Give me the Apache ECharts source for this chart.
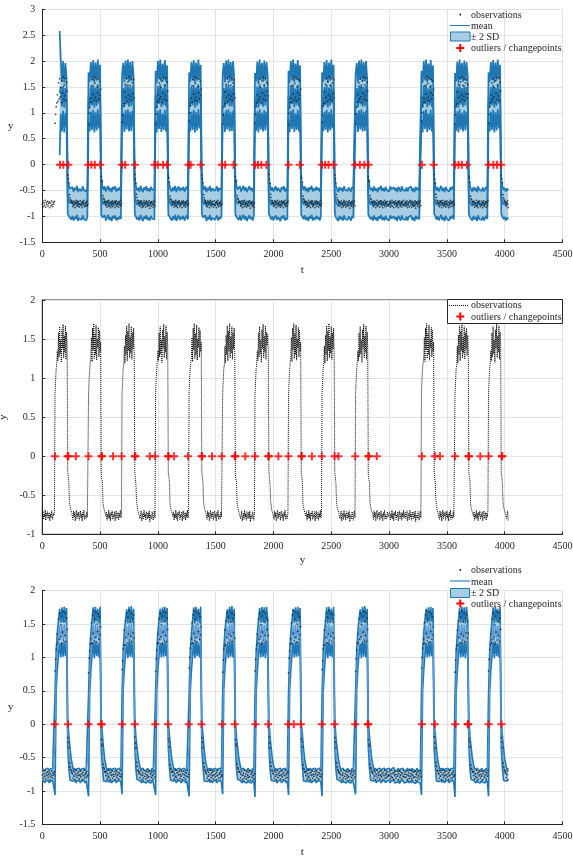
<!DOCTYPE html>
<html>
<head>
<meta charset="utf-8">
<script src="https://cdn.jsdelivr.net/npm/echarts@6/dist/echarts.min.js"></script>
<style>
  html, body { margin: 0; padding: 0; background: #fff; }
  #chart { width: 573px; height: 856px; }
</style>
</head>
<body>
<div id="chart"></div>
<script>
// Sampling steps (time units per sample): observation i sits at t = i * obsStep,
// model sample j at t = j * modelStep.
const obsStep = 5;
const modelStep = 10;

// Observed signal, t = 0 … 4030 (one line per regime).
const observations = [
  -0.76, -0.7, -0.81, -0.74, -0.78, -0.69, -0.82, -0.73, -0.77, -0.71, -0.8, -0.75, -0.72, -0.83, -0.74, -0.79, -0.7, -0.77, -0.81, -0.73, -0.76, -0.71,
  0.8, 0.97, 1.12, 1.19, 1.35, 1.22, 1.58, 1.27, 1.66, 1.31, 1.49, 1.2, 1.62, 1.38, 1.69, 1.26, 1.54, 1.33, 1.67, 1.24, 1.59, 1.42,
  -0.2, -0.27, -0.35, -0.58, -0.64, -0.68, -0.7, -0.73, -0.74, -0.81, -0.7, -0.78, -0.72, -0.83, -0.75, -0.69, -0.8, -0.73, -0.77, -0.71, -0.82, -0.76, -0.7, -0.79, -0.74, -0.83, -0.72, -0.77, -0.69, -0.81, -0.75, -0.73, -0.8, -0.71, -0.78, -0.76,
  0.77, 0.99, 1.1, 1.2, 1.28, 1.52, 1.21, 1.64, 1.36, 1.7, 1.25, 1.57, 1.3, 1.68, 1.23, 1.5, 1.39, 1.65, 1.27, 1.61, 1.34, 1.46,
  -0.23, -0.3, -0.33, -0.6, -0.65, -0.67, -0.71, -0.72, -0.77, -0.71, -0.82, -0.74, -0.79, -0.69, -0.8, -0.73, -0.83, -0.72, -0.76, -0.7, -0.81, -0.75, -0.78, -0.71, -0.83, -0.74, -0.7, -0.8, -0.76, -0.72, -0.82, -0.73, -0.78, -0.69, -0.79, -0.75,
  0.82, 0.95, 1.13, 1.18, 1.41, 1.19, 1.55, 1.3, 1.67, 1.22, 1.6, 1.35, 1.7, 1.26, 1.53, 1.32, 1.66, 1.24, 1.58, 1.37, 1.64, 1.29,
  -0.19, -0.28, -0.36, -0.57, -0.63, -0.69, -0.7, -0.74, -0.72, -0.8, -0.75, -0.7, -0.83, -0.77, -0.73, -0.81, -0.69, -0.78, -0.74, -0.82, -0.71, -0.76, -0.8, -0.72, -0.79, -0.7, -0.84, -0.75, -0.73, -0.8, -0.71, -0.77, -0.82, -0.74, -0.7, -0.79,
  0.79, 0.98, 1.11, 1.21, 1.35, 1.22, 1.58, 1.27, 1.66, 1.31, 1.49, 1.2, 1.62, 1.38, 1.69, 1.26, 1.54, 1.33, 1.67, 1.24, 1.59, 1.42,
  -0.22, -0.26, -0.34, -0.61, -0.66, -0.68, -0.72, -0.71, -0.77, -0.71, -0.82, -0.74, -0.79, -0.69, -0.8, -0.73, -0.83, -0.72, -0.76, -0.7, -0.81, -0.75, -0.78, -0.71, -0.83, -0.74, -0.7, -0.8, -0.76, -0.72, -0.82, -0.73, -0.78, -0.69, -0.79, -0.75,
  0.84, 1.0, 1.14, 1.2, 1.28, 1.52, 1.21, 1.64, 1.36, 1.7, 1.25, 1.57, 1.3, 1.68, 1.23, 1.5, 1.39, 1.65, 1.27, 1.61, 1.34, 1.46,
  -0.2, -0.27, -0.35, -0.58, -0.64, -0.68, -0.7, -0.73, -0.74, -0.81, -0.7, -0.78, -0.72, -0.83, -0.75, -0.69, -0.8, -0.73, -0.77, -0.71, -0.82, -0.76, -0.7, -0.79, -0.74, -0.83, -0.72, -0.77, -0.69, -0.81, -0.75, -0.73, -0.8, -0.71, -0.78, -0.76,
  0.78, 0.96, 1.12, 1.17, 1.41, 1.19, 1.55, 1.3, 1.67, 1.22, 1.6, 1.35, 1.7, 1.26, 1.53, 1.32, 1.66, 1.24, 1.58, 1.37, 1.64, 1.29,
  -0.23, -0.3, -0.33, -0.6, -0.65, -0.67, -0.71, -0.72, -0.72, -0.8, -0.75, -0.7, -0.83, -0.77, -0.73, -0.81, -0.69, -0.78, -0.74, -0.82, -0.71, -0.76, -0.8, -0.72, -0.79, -0.7, -0.84, -0.75, -0.73, -0.8, -0.71, -0.77, -0.82, -0.74,
  0.8, 0.97, 1.12, 1.19, 1.35, 1.22, 1.58, 1.27, 1.66, 1.31, 1.49, 1.2, 1.62, 1.38, 1.69, 1.26, 1.54, 1.33, 1.67, 1.24, 1.59, 1.42, 1.56, 1.33,
  -0.19, -0.28, -0.36, -0.57, -0.63, -0.69, -0.7, -0.74, -0.74, -0.81, -0.7, -0.78, -0.72, -0.83, -0.75, -0.69, -0.8, -0.73, -0.77, -0.71, -0.82, -0.76, -0.7, -0.79, -0.74, -0.83, -0.72, -0.77, -0.69, -0.81, -0.75, -0.73, -0.8, -0.71,
  0.77, 0.99, 1.1, 1.2, 1.28, 1.52, 1.21, 1.64, 1.36, 1.7, 1.25, 1.57, 1.3, 1.68, 1.23, 1.5, 1.39, 1.65, 1.27, 1.61, 1.34, 1.46,
  -0.22, -0.26, -0.34, -0.61, -0.66, -0.68, -0.72, -0.71, -0.77, -0.71, -0.82, -0.74, -0.79, -0.69, -0.8, -0.73, -0.83, -0.72, -0.76, -0.7, -0.81, -0.75, -0.78, -0.71, -0.83, -0.74, -0.7, -0.8, -0.76, -0.72, -0.82, -0.73, -0.78, -0.69, -0.79, -0.75,
  0.82, 0.95, 1.13, 1.18, 1.41, 1.19, 1.55, 1.3, 1.67, 1.22, 1.6, 1.35, 1.7, 1.26, 1.53, 1.32, 1.66, 1.24, 1.58, 1.37, 1.64, 1.29,
  -0.2, -0.27, -0.35, -0.58, -0.64, -0.68, -0.7, -0.73, -0.72, -0.8, -0.75, -0.7, -0.83, -0.77, -0.73, -0.81, -0.69, -0.78, -0.74, -0.82, -0.71, -0.76, -0.8, -0.72, -0.79, -0.7, -0.84, -0.75, -0.73, -0.8, -0.71, -0.77, -0.82, -0.74, -0.7, -0.79,
  0.79, 0.98, 1.11, 1.21, 1.35, 1.22, 1.58, 1.27, 1.66, 1.31, 1.49, 1.2, 1.62, 1.38, 1.69, 1.26, 1.54, 1.33, 1.67, 1.24, 1.59, 1.42,
  -0.23, -0.3, -0.33, -0.6, -0.65, -0.67, -0.71, -0.72,
  -0.74, -0.81, -0.7, -0.78, -0.72, -0.83, -0.75, -0.69, -0.8, -0.73, -0.77, -0.71, -0.82, -0.76, -0.7, -0.79, -0.74, -0.83, -0.72, -0.77, -0.69, -0.81, -0.75, -0.73, -0.8, -0.71, -0.78, -0.76,
  -0.77, -0.71, -0.82, -0.74, -0.79, -0.69, -0.8, -0.73, -0.83, -0.72, -0.76, -0.7, -0.81, -0.75, -0.78, -0.71, -0.83, -0.74, -0.7, -0.8, -0.76, -0.72, -0.82, -0.73, -0.78, -0.69, -0.79, -0.75,
  -0.72, -0.8, -0.75, -0.7, -0.83, -0.77, -0.73, -0.81, -0.69, -0.78, -0.74, -0.82, -0.71, -0.76, -0.8, -0.72, -0.79, -0.7, -0.84, -0.75, -0.73, -0.8, -0.71, -0.77, -0.82, -0.74, -0.7, -0.79,
  0.84, 1.0, 1.14, 1.2, 1.28, 1.52, 1.21, 1.64, 1.36, 1.7, 1.25, 1.57, 1.3, 1.68, 1.23, 1.5, 1.39, 1.65, 1.27, 1.61, 1.34, 1.46,
  -0.19, -0.28, -0.36, -0.57, -0.63, -0.69, -0.7, -0.74, -0.74, -0.81, -0.7, -0.78, -0.72, -0.83, -0.75, -0.69, -0.8, -0.73, -0.77, -0.71, -0.82, -0.76, -0.7, -0.79, -0.74, -0.83, -0.72, -0.77, -0.69, -0.81, -0.75, -0.73, -0.8, -0.71, -0.78, -0.76,
  0.78, 0.96, 1.12, 1.17, 1.41, 1.19, 1.55, 1.3, 1.67, 1.22, 1.6, 1.35, 1.7, 1.26, 1.53, 1.32, 1.66, 1.24, 1.58, 1.37, 1.64, 1.29, 1.55, 1.36,
  -0.22, -0.26, -0.34, -0.61, -0.66, -0.68, -0.72, -0.71, -0.77, -0.71, -0.82, -0.74, -0.79, -0.69, -0.8, -0.73, -0.83, -0.72, -0.76, -0.7, -0.81, -0.75, -0.78, -0.71, -0.83, -0.74, -0.7, -0.8, -0.76, -0.72, -0.82, -0.73, -0.78, -0.69,
  0.8, 0.97, 1.12, 1.19, 1.35, 1.22, 1.58, 1.27, 1.66, 1.31, 1.49, 1.2, 1.62, 1.38, 1.69, 1.26, 1.54, 1.33, 1.67, 1.24, 1.59, 1.42,
  -0.2, -0.27, -0.35, -0.58, -0.64, -0.68, -0.7, -0.73, -0.72, -0.8, -0.75, -0.7, -0.83
];

// Filtered mean and standard deviation of the first model (starts at t = 150).
const mean1 = [
  null, null, null, null, null, null, null, null, null, null, null, null, null, null, null,
  1.38, 1.5, 1.12, 1.52, 1.1, 1.48, 1.2,
  -0.6, -0.7, -0.75, -0.78, -0.71, -0.8, -0.73, -0.77, -0.69, -0.81, -0.75, -0.72, -0.79, -0.7, -0.77, -0.74, -0.8, -0.72,
  1.3, 1.12, 1.5, 1.15, 1.54, 1.1, 1.49, 1.14, 1.55, 1.18, 1.45,
  -0.62, -0.72, -0.77, -0.7, -0.8, -0.74, -0.69, -0.79, -0.73, -0.81, -0.71, -0.76, -0.7, -0.8, -0.74, -0.78, -0.71, -0.77,
  1.27, 1.48, 1.11, 1.53, 1.16, 1.55, 1.12, 1.5, 1.13, 1.52, 1.2,
  -0.61, -0.71, -0.78, -0.73, -0.8, -0.69, -0.76, -0.81, -0.72, -0.77, -0.7, -0.79, -0.74, -0.8, -0.71, -0.76, -0.73, -0.78,
  1.33, 1.1, 1.52, 1.17, 1.55, 1.11, 1.47, 1.15, 1.54, 1.12, 1.44,
  -0.63, -0.7, -0.76, -0.8, -0.72, -0.78, -0.69, -0.81, -0.74, -0.7, -0.79, -0.73, -0.77, -0.71, -0.8, -0.75, -0.7, -0.78,
  1.3, 1.12, 1.5, 1.15, 1.54, 1.1, 1.49, 1.14, 1.55, 1.18, 1.45,
  -0.6, -0.72, -0.77, -0.7, -0.81, -0.73, -0.78, -0.69, -0.8, -0.74, -0.71, -0.79, -0.75, -0.7, -0.8, -0.73, -0.77, -0.72,
  1.27, 1.48, 1.11, 1.53, 1.16, 1.55, 1.12, 1.5, 1.13, 1.52, 1.2,
  -0.62, -0.71, -0.76, -0.79, -0.7, -0.8, -0.74, -0.69, -0.78, -0.72, -0.81, -0.75, -0.7, -0.77, -0.73, -0.8, -0.71,
  1.29, 1.13, 1.51, 1.1, 1.55, 1.16, 1.48, 1.12, 1.53, 1.14, 1.5, 1.22,
  -0.61, -0.7, -0.78, -0.72, -0.8, -0.74, -0.7, -0.79, -0.73, -0.77, -0.81, -0.71, -0.76, -0.7, -0.8, -0.74, -0.78,
  1.33, 1.1, 1.52, 1.17, 1.55, 1.11, 1.47, 1.15, 1.54, 1.12, 1.44,
  -0.63, -0.71, -0.77, -0.7, -0.79, -0.73, -0.81, -0.72, -0.76, -0.69, -0.8, -0.74, -0.78, -0.71, -0.77, -0.73, -0.8, -0.72,
  1.3, 1.12, 1.5, 1.15, 1.54, 1.1, 1.49, 1.14, 1.55, 1.18, 1.45,
  -0.6, -0.72, -0.76, -0.81, -0.71, -0.78, -0.73, -0.8, -0.7, -0.77, -0.74, -0.79, -0.72, -0.76, -0.8, -0.71, -0.75, -0.78,
  1.27, 1.48, 1.11, 1.53, 1.16, 1.55, 1.12, 1.5, 1.13, 1.52, 1.2,
  -0.62, -0.71, -0.77, -0.73, -0.8, -0.7, -0.78, -0.74, -0.81, -0.72, -0.76, -0.69, -0.79, -0.73, -0.8, -0.71, -0.77, -0.74, -0.8, -0.7, -0.76, -0.79, -0.72,
  -0.78, -0.73, -0.81, -0.71, -0.75, -0.8, -0.7, -0.77, -0.74, -0.79, -0.72, -0.8, -0.73, -0.76, -0.7, -0.79, -0.74, -0.81, -0.71, -0.77, -0.73, -0.78, -0.75,
  1.33, 1.1, 1.52, 1.17, 1.55, 1.11, 1.47, 1.15, 1.54, 1.12, 1.44,
  -0.61, -0.7, -0.78, -0.72, -0.8, -0.74, -0.69, -0.79, -0.73, -0.81, -0.71, -0.77, -0.74, -0.8, -0.72, -0.76, -0.7, -0.78,
  1.29, 1.13, 1.51, 1.1, 1.55, 1.16, 1.48, 1.12, 1.53, 1.14, 1.5, 1.22,
  -0.62, -0.72, -0.76, -0.8, -0.71, -0.78, -0.73, -0.81, -0.7, -0.77, -0.74, -0.79, -0.72, -0.8, -0.75, -0.71, -0.77,
  1.3, 1.12, 1.5, 1.15, 1.54, 1.1, 1.49, 1.14, 1.55, 1.18, 1.45,
  -0.61, -0.71, -0.77, -0.73, -0.8, -0.74, -0.78
];
const sd1 = [
  null, null, null, null, null, null, null, null, null, null, null, null, null, null, null,
  0.6, 0.26, 0.24, 0.24, 0.24, 0.24, 0.24,
  0.17, 0.15, 0.14, 0.14, 0.14, 0.14, 0.14, 0.14, 0.14, 0.14, 0.14, 0.14, 0.14, 0.14, 0.14, 0.14, 0.14, 0.14,
  0.24, 0.24, 0.24, 0.24, 0.24, 0.24, 0.24, 0.24, 0.24, 0.24, 0.24,
  0.17, 0.15, 0.14, 0.14, 0.14, 0.14, 0.14, 0.14, 0.14, 0.14, 0.14, 0.14, 0.14, 0.14, 0.14, 0.14, 0.14, 0.14,
  0.24, 0.24, 0.24, 0.24, 0.24, 0.24, 0.24, 0.24, 0.24, 0.24, 0.24,
  0.17, 0.15, 0.14, 0.14, 0.14, 0.14, 0.14, 0.14, 0.14, 0.14, 0.14, 0.14, 0.14, 0.14, 0.14, 0.14, 0.14, 0.14,
  0.24, 0.24, 0.24, 0.24, 0.24, 0.24, 0.24, 0.24, 0.24, 0.24, 0.24,
  0.17, 0.15, 0.14, 0.14, 0.14, 0.14, 0.14, 0.14, 0.14, 0.14, 0.14, 0.14, 0.14, 0.14, 0.14, 0.14, 0.14, 0.14,
  0.24, 0.24, 0.24, 0.24, 0.24, 0.24, 0.24, 0.24, 0.24, 0.24, 0.24,
  0.17, 0.15, 0.14, 0.14, 0.14, 0.14, 0.14, 0.14, 0.14, 0.14, 0.14, 0.14, 0.14, 0.14, 0.14, 0.14, 0.14, 0.14,
  0.24, 0.24, 0.24, 0.24, 0.24, 0.24, 0.24, 0.24, 0.24, 0.24, 0.24,
  0.17, 0.15, 0.14, 0.14, 0.14, 0.14, 0.14, 0.14, 0.14, 0.14, 0.14, 0.14, 0.14, 0.14, 0.14, 0.14, 0.14,
  0.24, 0.24, 0.24, 0.24, 0.24, 0.24, 0.24, 0.24, 0.24, 0.24, 0.24, 0.24,
  0.17, 0.15, 0.14, 0.14, 0.14, 0.14, 0.14, 0.14, 0.14, 0.14, 0.14, 0.14, 0.14, 0.14, 0.14, 0.14, 0.14,
  0.24, 0.24, 0.24, 0.24, 0.24, 0.24, 0.24, 0.24, 0.24, 0.24, 0.24,
  0.17, 0.15, 0.14, 0.14, 0.14, 0.14, 0.14, 0.14, 0.14, 0.14, 0.14, 0.14, 0.14, 0.14, 0.14, 0.14, 0.14, 0.14,
  0.24, 0.24, 0.24, 0.24, 0.24, 0.24, 0.24, 0.24, 0.24, 0.24, 0.24,
  0.17, 0.15, 0.14, 0.14, 0.14, 0.14, 0.14, 0.14, 0.14, 0.14, 0.14, 0.14, 0.14, 0.14, 0.14, 0.14, 0.14, 0.14,
  0.24, 0.24, 0.24, 0.24, 0.24, 0.24, 0.24, 0.24, 0.24, 0.24, 0.24,
  0.17, 0.15, 0.14, 0.14, 0.14, 0.14, 0.14, 0.14, 0.14, 0.14, 0.14, 0.14, 0.14, 0.14, 0.14, 0.14, 0.14, 0.14, 0.14, 0.14, 0.14, 0.14, 0.14,
  0.14, 0.14, 0.14, 0.14, 0.14, 0.14, 0.14, 0.14, 0.14, 0.14, 0.14, 0.14, 0.14, 0.14, 0.14, 0.14, 0.14, 0.14, 0.14, 0.14, 0.14, 0.14, 0.14,
  0.24, 0.24, 0.24, 0.24, 0.24, 0.24, 0.24, 0.24, 0.24, 0.24, 0.24,
  0.17, 0.15, 0.14, 0.14, 0.14, 0.14, 0.14, 0.14, 0.14, 0.14, 0.14, 0.14, 0.14, 0.14, 0.14, 0.14, 0.14, 0.14,
  0.24, 0.24, 0.24, 0.24, 0.24, 0.24, 0.24, 0.24, 0.24, 0.24, 0.24, 0.24,
  0.17, 0.15, 0.14, 0.14, 0.14, 0.14, 0.14, 0.14, 0.14, 0.14, 0.14, 0.14, 0.14, 0.14, 0.14, 0.14, 0.14,
  0.24, 0.24, 0.24, 0.24, 0.24, 0.24, 0.24, 0.24, 0.24, 0.24, 0.24,
  0.17, 0.15, 0.14, 0.14, 0.14, 0.14, 0.14
];

// Mean and standard deviation of the second model (whole record).
const mean3 = [
  -0.77, -0.75, -0.79, -0.76, -0.78, -0.75, -0.79, -0.76, -0.78, -0.75, -0.77,
  -0.3, 0.8, 1.1, 1.3, 1.47, 1.26, 1.49, 1.27, 1.5, 1.28, 1.48,
  -0.15, -0.42, -0.6, -0.68, -0.73, -0.78, -0.75, -0.79, -0.76, -0.78, -0.75, -0.79, -0.76, -0.78, -0.75, -0.79, -0.76, -0.78,
  -0.32, 0.78, 1.08, 1.29, 1.49, 1.25, 1.5, 1.28, 1.47, 1.26, 1.5,
  -0.18, -0.4, -0.61, -0.69, -0.74, -0.79, -0.75, -0.78, -0.75, -0.79, -0.76, -0.78, -0.75, -0.79, -0.76, -0.78, -0.75, -0.79,
  -0.29, 0.82, 1.12, 1.31, 1.46, 1.25, 1.5, 1.27, 1.51, 1.26, 1.47,
  -0.13, -0.44, -0.59, -0.67, -0.72, -0.77, -0.79, -0.75, -0.78, -0.76, -0.79, -0.75, -0.78, -0.76, -0.79, -0.75, -0.78, -0.76,
  -0.3, 0.8, 1.1, 1.3, 1.47, 1.26, 1.49, 1.27, 1.5, 1.28, 1.48,
  -0.15, -0.42, -0.6, -0.68, -0.73, -0.78, -0.75, -0.79, -0.76, -0.78, -0.75, -0.79, -0.76, -0.78, -0.75, -0.79, -0.76, -0.78,
  -0.32, 0.78, 1.08, 1.29, 1.49, 1.25, 1.5, 1.28, 1.47, 1.26, 1.5,
  -0.18, -0.4, -0.61, -0.69, -0.74, -0.79, -0.75, -0.78, -0.75, -0.79, -0.76, -0.78, -0.75, -0.79, -0.76, -0.78, -0.75, -0.79,
  -0.29, 0.82, 1.12, 1.31, 1.46, 1.25, 1.5, 1.27, 1.51, 1.26, 1.47,
  -0.13, -0.44, -0.59, -0.67, -0.72, -0.77, -0.79, -0.75, -0.78, -0.76, -0.79, -0.75, -0.78, -0.76, -0.79, -0.75, -0.78,
  -0.33, 0.77, 1.07, 1.3, 1.48, 1.26, 1.5, 1.27, 1.49, 1.25, 1.5, 1.3,
  -0.15, -0.42, -0.6, -0.68, -0.73, -0.78, -0.75, -0.79, -0.76, -0.78, -0.75, -0.79, -0.76, -0.78, -0.75, -0.79, -0.76,
  -0.3, 0.8, 1.1, 1.3, 1.47, 1.26, 1.49, 1.27, 1.5, 1.28, 1.48,
  -0.18, -0.4, -0.61, -0.69, -0.74, -0.79, -0.75, -0.78, -0.75, -0.79, -0.76, -0.78, -0.75, -0.79, -0.76, -0.78, -0.75, -0.79,
  -0.32, 0.78, 1.08, 1.29, 1.49, 1.25, 1.5, 1.28, 1.47, 1.26, 1.5,
  -0.13, -0.44, -0.59, -0.67, -0.72, -0.77, -0.79, -0.75, -0.78, -0.76, -0.79, -0.75, -0.78, -0.76, -0.79, -0.75, -0.78, -0.76,
  -0.29, 0.82, 1.12, 1.31, 1.46, 1.25, 1.5, 1.27, 1.51, 1.26, 1.47,
  -0.15, -0.42, -0.6, -0.68, -0.73, -0.78, -0.75, -0.79, -0.76, -0.78, -0.75, -0.79, -0.76, -0.78, -0.75, -0.79, -0.76, -0.78,
  -0.75, -0.79, -0.76, -0.78, -0.74, -0.79, -0.77, -0.78, -0.75, -0.8, -0.76, -0.78, -0.75, -0.79,
  -0.77, -0.78, -0.75, -0.79, -0.76, -0.79, -0.75, -0.78, -0.76, -0.8, -0.75, -0.78, -0.76, -0.79,
  -0.3, 0.8, 1.1, 1.3, 1.47, 1.26, 1.49, 1.27, 1.5, 1.28, 1.48,
  -0.18, -0.4, -0.61, -0.69, -0.74, -0.79, -0.75, -0.78, -0.75, -0.79, -0.76, -0.78, -0.75, -0.79, -0.76, -0.78, -0.75, -0.79,
  -0.33, 0.77, 1.07, 1.3, 1.48, 1.26, 1.5, 1.27, 1.49, 1.25, 1.5, 1.3,
  -0.13, -0.44, -0.59, -0.67, -0.72, -0.77, -0.79, -0.75, -0.78, -0.76, -0.79, -0.75, -0.78, -0.76, -0.79, -0.75, -0.78,
  -0.32, 0.78, 1.08, 1.29, 1.49, 1.25, 1.5, 1.28, 1.47, 1.26, 1.5,
  -0.15, -0.42, -0.6, -0.68, -0.73, -0.78, -0.75
];
const sd3 = [
  0.05, 0.045, 0.045, 0.045, 0.045, 0.045, 0.045, 0.045, 0.045, 0.045, 0.045,
  0.38, 0.15, 0.14, 0.13, 0.13, 0.13, 0.13, 0.13, 0.13, 0.13, 0.13,
  0.1, 0.12, 0.12, 0.08, 0.06, 0.045, 0.045, 0.045, 0.045, 0.045, 0.045, 0.045, 0.045, 0.045, 0.045, 0.045, 0.045, 0.045,
  0.38, 0.15, 0.14, 0.13, 0.13, 0.13, 0.13, 0.13, 0.13, 0.13, 0.13,
  0.1, 0.12, 0.12, 0.08, 0.06, 0.045, 0.045, 0.045, 0.045, 0.045, 0.045, 0.045, 0.045, 0.045, 0.045, 0.045, 0.045, 0.045,
  0.38, 0.15, 0.14, 0.13, 0.13, 0.13, 0.13, 0.13, 0.13, 0.13, 0.13,
  0.1, 0.12, 0.12, 0.08, 0.06, 0.045, 0.045, 0.045, 0.045, 0.045, 0.045, 0.045, 0.045, 0.045, 0.045, 0.045, 0.045, 0.045,
  0.38, 0.15, 0.14, 0.13, 0.13, 0.13, 0.13, 0.13, 0.13, 0.13, 0.13,
  0.1, 0.12, 0.12, 0.08, 0.06, 0.045, 0.045, 0.045, 0.045, 0.045, 0.045, 0.045, 0.045, 0.045, 0.045, 0.045, 0.045, 0.045,
  0.38, 0.15, 0.14, 0.13, 0.13, 0.13, 0.13, 0.13, 0.13, 0.13, 0.13,
  0.1, 0.12, 0.12, 0.08, 0.06, 0.045, 0.045, 0.045, 0.045, 0.045, 0.045, 0.045, 0.045, 0.045, 0.045, 0.045, 0.045, 0.045,
  0.38, 0.15, 0.14, 0.13, 0.13, 0.13, 0.13, 0.13, 0.13, 0.13, 0.13,
  0.1, 0.12, 0.12, 0.08, 0.06, 0.045, 0.045, 0.045, 0.045, 0.045, 0.045, 0.045, 0.045, 0.045, 0.045, 0.045, 0.045,
  0.38, 0.15, 0.14, 0.13, 0.13, 0.13, 0.13, 0.13, 0.13, 0.13, 0.13, 0.13,
  0.1, 0.12, 0.12, 0.08, 0.06, 0.045, 0.045, 0.045, 0.045, 0.045, 0.045, 0.045, 0.045, 0.045, 0.045, 0.045, 0.045,
  0.38, 0.15, 0.14, 0.13, 0.13, 0.13, 0.13, 0.13, 0.13, 0.13, 0.13,
  0.1, 0.12, 0.12, 0.08, 0.06, 0.045, 0.045, 0.045, 0.045, 0.045, 0.045, 0.045, 0.045, 0.045, 0.045, 0.045, 0.045, 0.045,
  0.38, 0.15, 0.14, 0.13, 0.13, 0.13, 0.13, 0.13, 0.13, 0.13, 0.13,
  0.1, 0.12, 0.12, 0.08, 0.06, 0.045, 0.045, 0.045, 0.045, 0.045, 0.045, 0.045, 0.045, 0.045, 0.045, 0.045, 0.045, 0.045,
  0.38, 0.15, 0.14, 0.13, 0.13, 0.13, 0.13, 0.13, 0.13, 0.13, 0.13,
  0.1, 0.12, 0.12, 0.08, 0.06, 0.045, 0.045, 0.045, 0.045, 0.045, 0.045, 0.045, 0.045, 0.045, 0.045, 0.045, 0.045, 0.045,
  0.045, 0.045, 0.045, 0.045, 0.045, 0.045, 0.045, 0.045, 0.045, 0.045, 0.045, 0.045, 0.045, 0.045,
  0.045, 0.045, 0.045, 0.045, 0.045, 0.045, 0.045, 0.045, 0.045, 0.045, 0.045, 0.045, 0.045, 0.045,
  0.38, 0.15, 0.14, 0.13, 0.13, 0.13, 0.13, 0.13, 0.13, 0.13, 0.13,
  0.1, 0.12, 0.12, 0.08, 0.06, 0.045, 0.045, 0.045, 0.045, 0.045, 0.045, 0.045, 0.045, 0.045, 0.045, 0.045, 0.045, 0.045,
  0.38, 0.15, 0.14, 0.13, 0.13, 0.13, 0.13, 0.13, 0.13, 0.13, 0.13, 0.13,
  0.1, 0.12, 0.12, 0.08, 0.06, 0.045, 0.045, 0.045, 0.045, 0.045, 0.045, 0.045, 0.045, 0.045, 0.045, 0.045, 0.045,
  0.38, 0.15, 0.14, 0.13, 0.13, 0.13, 0.13, 0.13, 0.13, 0.13, 0.13,
  0.1, 0.12, 0.12, 0.08, 0.06, 0.045, 0.045
];

// Times flagged as outliers / changepoints by each method (drawn on y = 0).
const flags1 = [153, 182, 225, 397, 425, 455, 501, 689, 717, 801, 970, 998, 1045, 1078, 1265, 1283, 1370,
  1553, 1582, 1654, 1841, 1866, 1895, 1938, 2130, 2228, 2418, 2447, 2476, 2519, 2707, 2747, 2786, 2822,
  3284, 3385, 3572, 3601, 3630, 3673, 3861, 3902, 3933, 3970];
const flags2 = [110, 219, 226, 290, 400, 512, 517, 612, 686, 800, 805, 930, 976, 1088, 1093, 1140, 1261,
  1378, 1383, 1468, 1552, 1665, 1670, 1756, 1840, 1955, 1960, 2042, 2129, 2241, 2246, 2332, 2418, 2528,
  2562, 2707, 2820, 2825, 2894, 3284, 3396, 3440, 3570, 3686, 3691, 3789, 3861, 3974, 3979];
const flags3 = [108, 222, 400, 509, 514, 690, 800, 978, 1088, 1267, 1377, 1556, 1665, 1844, 1954, 2127,
  2175, 2236, 2418, 2527, 2707, 2815, 2820, 3284, 3395, 3572, 3680, 3684, 3861, 3972];

if (observations.length !== 807) throw new Error('observations has ' + observations.length + ' samples');
[['mean1', mean1], ['sd1', sd1], ['mean3', mean3], ['sd3', sd3]]
  .forEach(([n, a]) => { if (a.length !== 404) throw new Error(n + ' has ' + a.length + ' samples'); });

const FONT = '"Liberation Serif", "Times New Roman", serif';
const INK = '#262626';
const BLUE = '#1f77b4';
const BAND_FILL = '#a6cde2';
const MEAN3 = '#5b9bd5';
const GRIDLINE = '#e3e3e3';
const PLUS = 'path://M3,0h2v3h3v2h-3v3h-2v-3h-3v-2h3z';

function pairs(vals, step) {
  const out = [];
  vals.forEach((v, i) => { if (v != null) out.push([i * step, v]); });
  return out;
}
function edge(mean, sd, sign) {
  const out = [];
  mean.forEach((m, i) => { if (m != null) out.push([i * modelStep, m + sign * 2 * sd[i]]); });
  return out;
}
function bandFill(idx, mean, sd) {
  return {
    type: 'custom', xAxisIndex: idx, yAxisIndex: idx, silent: true, clip: true, z: 1,
    data: [[0, 0]],
    renderItem: function (params, api) {
      const up = [], lo = [];
      mean.forEach((m, i) => {
        if (m == null) return;
        up.push(api.coord([i * modelStep, m + 2 * sd[i]]));
        lo.push(api.coord([i * modelStep, m - 2 * sd[i]]));
      });
      return { type: 'polygon', shape: { points: up.concat(lo.reverse()) }, style: { fill: BAND_FILL, stroke: null } };
    }
  };
}
function line(idx, data, lineStyle) {
  return {
    type: 'line', xAxisIndex: idx, yAxisIndex: idx, data: data, symbol: 'none', showSymbol: false,
    silent: true, lineStyle: lineStyle, z: 2
  };
}
function dots(idx) {
  return {
    type: 'scatter', xAxisIndex: idx, yAxisIndex: idx, data: pairs(observations, obsStep), symbol: 'circle',
    symbolSize: 1.7, itemStyle: { color: '#1a1a1a' }, silent: true, z: 4
  };
}
function flags(idx, ts) {
  return {
    type: 'scatter', xAxisIndex: idx, yAxisIndex: idx, data: ts.map(t => [t, 0]), symbol: PLUS,
    symbolSize: 8, itemStyle: { color: '#ff0000' }, silent: true, z: 5
  };
}

const axisText = { fontFamily: FONT, fontSize: 10, color: INK, margin: 7, formatter: v => String(v) };
function xAxis(idx, name, gap) {
  return {
    type: 'value', gridIndex: idx, min: 0, max: 4500, interval: 500,
    name: name, nameLocation: 'middle', nameGap: gap,
    nameTextStyle: { fontFamily: FONT, fontSize: 11, color: INK },
    axisLine: { show: true, onZero: false, lineStyle: { color: INK, width: 1 } },
    axisTick: { show: true, inside: true, length: 3, lineStyle: { color: INK } },
    axisLabel: axisText,
    splitLine: { show: true, lineStyle: { color: GRIDLINE, width: 1 } }
  };
}
function yAxis(idx, min, max, rotate, gap) {
  return {
    type: 'value', gridIndex: idx, min: min, max: max, interval: 0.5,
    name: 'y', nameLocation: 'middle', nameGap: gap, nameRotate: rotate,
    nameTextStyle: { fontFamily: FONT, fontSize: 11, color: INK },
    axisLine: { show: true, onZero: false, lineStyle: { color: INK, width: 1 } },
    axisTick: { show: true, inside: true, length: 3, lineStyle: { color: INK } },
    axisLabel: axisText,
    splitLine: { show: true, lineStyle: { color: GRIDLINE, width: 1 } }
  };
}

// Legend keys drawn as plain graphics so every key matches its mark.
function legendText(x, y, s) {
  return { type: 'text', x: x, y: y, style: { text: s, font: '10px ' + FONT, fill: INK, verticalAlign: 'middle' }, z: 100 };
}
function legendPlus(cx, cy) {
  return [
    { type: 'rect', shape: { x: cx - 4, y: cy - 1, width: 8, height: 2 }, style: { fill: '#ff0000' }, z: 100 },
    { type: 'rect', shape: { x: cx - 1, y: cy - 4, width: 2, height: 8 }, style: { fill: '#ff0000' }, z: 100 }
  ];
}
const legendItems = [].concat(
  // top panel
  [{ type: 'circle', shape: { cx: 460.3, cy: 14.5, r: 0.9 }, style: { fill: '#1a1a1a' }, z: 100 },
   legendText(471, 15, 'observations'),
   { type: 'line', shape: { x1: 450, y1: 25.5, x2: 470, y2: 25.5 }, style: { stroke: BLUE, lineWidth: 1 }, z: 100 },
   legendText(471, 26, 'mean'),
   { type: 'rect', shape: { x: 450.5, y: 32, width: 19.5, height: 9 }, style: { fill: BAND_FILL, stroke: BLUE, lineWidth: 1 }, z: 100 },
   legendText(471, 37, '± 2 SD')],
  legendPlus(460.3, 48),
  [legendText(471, 48.5, 'outliers / changepoints')],
  // middle panel
  [{ type: 'rect', shape: { x: 447.5, y: 299.5, width: 115, height: 24 }, style: { fill: '#fff', stroke: INK, lineWidth: 1 }, z: 99 },
   { type: 'line', shape: { x1: 449, y1: 305.5, x2: 469, y2: 305.5 }, style: { stroke: '#000', lineWidth: 1, lineDash: [1, 1] }, z: 100 },
   legendText(471, 305.5, 'observations')],
  legendPlus(460.3, 316.5),
  [legendText(471, 317, 'outliers / changepoints')],
  // bottom panel
  [{ type: 'circle', shape: { cx: 460.3, cy: 570, r: 0.9 }, style: { fill: '#1a1a1a' }, z: 100 },
   legendText(471, 570.5, 'observations'),
   { type: 'line', shape: { x1: 450, y1: 581, x2: 470, y2: 581 }, style: { stroke: MEAN3, lineWidth: 1.5 }, z: 100 },
   legendText(471, 582, 'mean'),
   { type: 'rect', shape: { x: 450.5, y: 588.5, width: 19, height: 9 }, style: { fill: BAND_FILL, stroke: BLUE, lineWidth: 1 }, z: 100 },
   legendText(471, 593, '± 2 SD')],
  legendPlus(460.3, 603.5),
  [legendText(471, 604, 'outliers / changepoints')]
);

const chart = echarts.init(document.getElementById('chart'), null, { renderer: 'canvas' });
chart.setOption({
  animation: false,
  backgroundColor: '#fff',
  grid: [
    { left: 42.3, top: 9.3, width: 520.2, height: 233, outerBoundsMode: 'none', containLabel: false },
    { left: 42.3, top: 300, width: 520.2, height: 234.3, show: true, borderColor: INK, borderWidth: 1, outerBoundsMode: 'none', containLabel: false },
    { left: 42.3, top: 590.7, width: 520.2, height: 233.6, outerBoundsMode: 'none', containLabel: false }
  ],
  xAxis: [xAxis(0, 't', 22), xAxis(1, 'y', 20), xAxis(2, 't', 22)],
  yAxis: [yAxis(0, -1.5, 3, 0, 18), yAxis(1, -1, 2, 90, 22), yAxis(2, -1.5, 2, 0, 18)],
  series: [
    // top: filter with ± 2 SD band
    bandFill(0, mean1, sd1),
    line(0, edge(mean1, sd1, 1), { color: BLUE, width: 1.7 }),
    line(0, edge(mean1, sd1, -1), { color: BLUE, width: 1.7 }),
    line(0, pairs(mean1, modelStep), { color: BLUE, width: 1.7 }),
    dots(0),
    flags(0, flags1),
    // middle: raw observations
    line(1, pairs(observations, obsStep), { color: '#000', width: 1, type: [1, 1] }),
    flags(1, flags2),
    // bottom: second model with ± 2 SD band
    bandFill(2, mean3, sd3),
    line(2, edge(mean3, sd3, 1), { color: BLUE, width: 1.6 }),
    line(2, edge(mean3, sd3, -1), { color: BLUE, width: 1.6 }),
    line(2, pairs(mean3, modelStep), { color: MEAN3, width: 1.2 }),
    dots(2),
    flags(2, flags3)
  ],
  graphic: legendItems
});
</script>
</body>
</html>
